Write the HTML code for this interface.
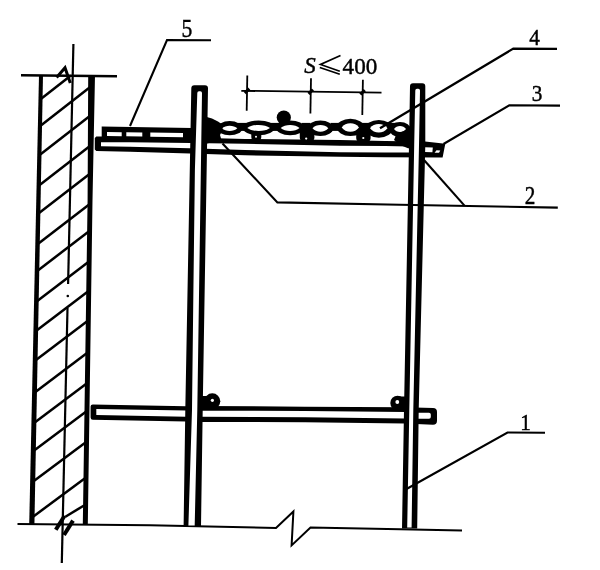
<!DOCTYPE html>
<html><head><meta charset="utf-8"><title>Scaffold section</title>
<style>
html,body{margin:0;padding:0;background:#fff;}
body{width:600px;height:570px;overflow:hidden;font-family:"Liberation Serif",serif;}
svg{display:block;}
text{font-family:"Liberation Serif",serif;fill:#000;}
</style></head><body>
<svg width="600" height="570" viewBox="0 0 600 570" style="filter:grayscale(1)">
<rect width="600" height="570" fill="#fff"/>
<line x1="40.5" y1="99.3" x2="70.9" y2="75.5" stroke="#000" stroke-width="2.5"/>
<line x1="39.9" y1="126.2" x2="91.5" y2="86.0" stroke="#000" stroke-width="2.5"/>
<line x1="39.3" y1="155.2" x2="91.1" y2="115.0" stroke="#000" stroke-width="2.5"/>
<line x1="38.7" y1="185.7" x2="90.6" y2="145.5" stroke="#000" stroke-width="2.5"/>
<line x1="38.1" y1="213.7" x2="90.2" y2="173.5" stroke="#000" stroke-width="2.5"/>
<line x1="37.5" y1="244.3" x2="89.8" y2="204.1" stroke="#000" stroke-width="2.5"/>
<line x1="36.9" y1="271.2" x2="89.4" y2="231.0" stroke="#000" stroke-width="2.5"/>
<line x1="36.3" y1="301.7" x2="89.0" y2="261.5" stroke="#000" stroke-width="2.5"/>
<line x1="35.6" y1="331.2" x2="88.6" y2="291.0" stroke="#000" stroke-width="2.5"/>
<line x1="35.0" y1="360.7" x2="88.2" y2="320.5" stroke="#000" stroke-width="2.5"/>
<line x1="34.4" y1="392.7" x2="87.7" y2="352.5" stroke="#000" stroke-width="2.5"/>
<line x1="33.7" y1="423.3" x2="87.3" y2="383.1" stroke="#000" stroke-width="2.5"/>
<line x1="33.1" y1="451.2" x2="86.9" y2="411.0" stroke="#000" stroke-width="2.5"/>
<line x1="32.5" y1="481.9" x2="86.5" y2="441.7" stroke="#000" stroke-width="2.5"/>
<line x1="31.7" y1="517.7" x2="86.0" y2="477.5" stroke="#000" stroke-width="2.5"/>
<line x1="65.4" y1="516.7" x2="84" y2="505.5" stroke="#000" stroke-width="2.5"/>
<polygon points="39,75 43,75 34.4,525 29.2,525" fill="#000"/>
<polygon points="88.2,75 95,75 92.5,200 87.8,525 82.8,525 87.6,200" fill="#000"/>
<line x1="73.4" y1="44" x2="68.1" y2="284" stroke="#000" stroke-width="2.2"/>
<circle cx="67.8" cy="296" r="1.3" fill="#000"/>
<line x1="67.5" y1="308" x2="61.8" y2="563" stroke="#000" stroke-width="2.2"/>
<line x1="21" y1="75.2" x2="117" y2="76.3" stroke="#000" stroke-width="2.6"/>
<polyline points="56.6,77.4 65,67.8 70.3,83" fill="none" stroke="#000" stroke-width="3" stroke-linejoin="miter"/>
<polyline points="17.5,524 150,525.3 276,528 293.4,511.5 291.6,545.4 310.5,527.6 400,529.2 462,530.6" fill="none" stroke="#000" stroke-width="2" stroke-linejoin="miter"/>
<line x1="55.8" y1="529.8" x2="64.6" y2="515.8" stroke="#000" stroke-width="4"/>
<line x1="64" y1="535" x2="73" y2="520.6" stroke="#000" stroke-width="4"/>
<polygon points="96.3,136.4 130,136.5 190,137.6 245,139 340,140 385,141 425,141.6 445.3,143.7 442.6,157.6 385,157.3 340,156.7 245,155.3 190,153.5 130,151.7 96.3,150.9 94.8,149.4 94.8,138" fill="#000"/>
<polygon points="101,142.3 130,142.3 190,142.9 245,143.8 340,145.7 385,146 409,146.5 409,152.5 385,152.4 340,152.3 245,150 190,148.3 130,146.7 101,146.3" fill="#fff"/>
<polygon points="425,147.3 432.8,147.4 432.4,152.2 425,152.1" fill="#fff"/>
<polygon points="436.5,150.3 440.3,150.4 439,152.8 434.6,152.7" fill="#fff"/>
<polygon points="101.7,126.4 192,128 192,139 101.7,137.5" fill="#000"/>
<polygon points="107,132 121.7,132.2 121.7,136.2 107,136" fill="#fff"/>
<polygon points="126.3,132.2 142.3,132.4 142.3,136.5 126.3,136.3" fill="#fff"/>
<polygon points="150.3,132.5 183,132.9 183,137.3 150.3,136.8" fill="#fff"/>
<ellipse cx="229.7" cy="128.2" rx="12.6" ry="7.1" fill="#000"/>
<ellipse cx="258.6" cy="127.8" rx="16.2" ry="7.4" fill="#000"/>
<ellipse cx="290.1" cy="127.8" rx="14.3" ry="7.4" fill="#000"/>
<ellipse cx="320.4" cy="128.2" rx="12.8" ry="7.8" fill="#000"/>
<ellipse cx="350.4" cy="127.3" rx="13.6" ry="8.6" fill="#000"/>
<ellipse cx="378.8" cy="128.8" rx="13.7" ry="8.9" fill="#000"/>
<ellipse cx="400.0" cy="129.5" rx="10.9" ry="7.6" fill="#000"/>
<rect x="237.8" y="122.9" width="9" height="8" fill="#000"/>
<rect x="270.8" y="122.9" width="9" height="8" fill="#000"/>
<rect x="301.5" y="122.9" width="9" height="8" fill="#000"/>
<rect x="330.5" y="122.9" width="9" height="8" fill="#000"/>
<rect x="360.0" y="122.9" width="9" height="8" fill="#000"/>
<rect x="386.5" y="122.9" width="9" height="8" fill="#000"/>
<path d="M222.0,128.3 C225.4,124.8 233.9,124.8 237.3,128.3 C233.9,131.9 225.4,131.9 222.0,128.3Z" fill="#fff"/>
<path d="M247.3,128.0 C252.3,124.0 265.0,124.0 270.0,128.0 C265.0,132.0 252.3,132.0 247.3,128.0Z" fill="#fff"/>
<path d="M280.7,128.0 C284.8,124.0 295.4,124.0 299.5,128.0 C295.4,132.0 284.8,132.0 280.7,128.0Z" fill="#fff"/>
<path d="M312.5,128.3 C316.0,123.9 324.8,123.9 328.3,128.3 C324.8,132.8 316.0,132.8 312.5,128.3Z" fill="#fff"/>
<path d="M341.7,127.5 C345.5,121.9 355.2,121.9 359.0,127.5 C355.2,133.1 345.5,133.1 341.7,127.5Z" fill="#fff"/>
<path d="M370.0,128.2 C373.9,122.6 383.6,122.6 387.5,128.2 C383.6,133.9 373.9,133.9 370.0,128.2Z" fill="#fff"/>
<path d="M394.0,129.0 C396.6,125.0 403.4,125.0 406.0,129.0 C403.4,133.0 396.6,133.0 394.0,129.0Z" fill="#fff"/>
<rect x="251.3" y="131" width="10.0" height="9.5" rx="3.5" fill="#000"/><circle cx="256" cy="136.7" r="1.0" fill="#fff"/>
<rect x="299.8" y="129" width="14.6" height="12.0" rx="3.5" fill="#000"/><circle cx="306.2" cy="138.6" r="1.1" fill="#fff"/>
<rect x="356.2" y="129" width="14.4" height="12.5" rx="3.5" fill="#000"/><circle cx="363.3" cy="138" r="1.1" fill="#fff"/>
<circle cx="283.8" cy="117.6" r="7.1" fill="#000"/>
<polygon points="205,116.5 212,118.5 218,121.5 223,125 222,131 220,135 221.5,140 205,144" fill="#000"/>
<polygon points="396.5,134 404,131 411,127 411,148.6 408,148.3 402,145.8 396,141.5 394,140" fill="#000"/>
<path d="M92.8,404.4 L186,406.2 L186,421.5 L92.8,419.7 Q90.6,419.7 90.6,417.5 L90.6,406.6 Q90.6,404.4 92.8,404.4Z" fill="#000"/>
<polygon points="96.3,409.1 186,410.6 186,416.8 96.3,415" fill="#fff"/>
<path d="M200,406 L305,406.7 L405,407.3 L433,408 Q437,408.2 437,412 L437,420.7 Q437,424.7 433,424.7 L405,423.5 L305,422.2 L200,422Z" fill="#000"/>
<polygon points="202,410.7 305,410.9 405,412 405,418.6 305,417.2 202,416.7" fill="#fff"/>
<path d="M418,412.7 L429,412.8 Q430.8,412.8 430.8,414.5 L430.8,417 Q430.8,418.8 429,418.8 L418,418.7Z" fill="#fff"/>
<circle cx="212.3" cy="401.3" r="8" fill="#000"/><rect x="200" y="396" width="10" height="12" fill="#000"/><circle cx="212.4" cy="400.3" r="1.6" fill="#fff"/>
<circle cx="397.6" cy="403" r="7.3" fill="#000"/><rect x="397" y="396.5" width="9" height="12" fill="#000"/><circle cx="397.3" cy="402" r="1.9" fill="#fff"/>
<path d="M191.3,88.3 Q191.3,85.3 194.3,85.3 L205,85.3 Q208,85.3 208,88.3 L202.7,410 L201,526.5 L183.6,526.5 L185.3,410Z" fill="#000"/>
<path d="M197.3,93 Q197.3,91.3 199,91.3 L200.3,91.3 Q202,91.3 202,93 L197.3,410 L194.7,525.5 L188.4,525.5 L192,410 L193.4,290 L194.9,170 L196.6,115Z" fill="#fff"/>
<path d="M410,86.3 Q410,83.3 413,83.3 L422.3,83.3 Q425.3,83.3 425.3,86.3 L425.3,145 L418.7,410 L417.2,528.5 L402,528.5 L404,410 L409,145Z" fill="#000"/>
<path d="M415.3,90.4 Q415.3,88.7 417,88.7 L418.3,88.7 Q420,88.7 420,90.4 L419,145 L413.3,410 L411.6,527.5 L407.2,527.5 L409.3,410 L414.2,145Z" fill="#fff"/>
<line x1="241.3" y1="90.8" x2="381.5" y2="92.6" stroke="#000" stroke-width="1.8"/>
<line x1="247.3" y1="75.4" x2="246.7" y2="110.8" stroke="#000" stroke-width="1.8"/>
<line x1="244.8" y1="93.07296" x2="249.2" y2="88.67295999999999" stroke="#000" stroke-width="3"/>
<line x1="311.0" y1="78.2" x2="310.4" y2="113.6" stroke="#000" stroke-width="1.8"/>
<line x1="308.5" y1="93.88832" x2="312.9" y2="89.48831999999999" stroke="#000" stroke-width="3"/>
<line x1="362.90000000000003" y1="79.7" x2="362.3" y2="115" stroke="#000" stroke-width="1.8"/>
<line x1="360.40000000000003" y1="94.55264" x2="364.8" y2="90.15263999999999" stroke="#000" stroke-width="3"/>
<polyline points="211,40.3 167,40 130,126" fill="none" stroke="#000" stroke-width="2.1" stroke-linejoin="miter"/>
<polyline points="557,48.9 513.3,48.6 380,128.3" fill="none" stroke="#000" stroke-width="2.3" stroke-linejoin="miter"/>
<polyline points="560,105.6 509.3,105.3 443.5,144" fill="none" stroke="#000" stroke-width="2.1" stroke-linejoin="miter"/>
<polyline points="222.5,143.5 277.4,202.4 400,204.8 557.8,207.6" fill="none" stroke="#000" stroke-width="2.1" stroke-linejoin="miter"/>
<polyline points="424,160 464.5,205.6" fill="none" stroke="#000" stroke-width="2.1" stroke-linejoin="miter"/>
<polyline points="545,432.8 507.5,432.5 406.5,489" fill="none" stroke="#000" stroke-width="2.1" stroke-linejoin="miter"/>
<text x="181.4" y="37.3" font-size="26" stroke="#000" stroke-width="0.45" textLength="10.8" lengthAdjust="spacingAndGlyphs">5</text>
<text x="529.2" y="45.4" font-size="24" stroke="#000" stroke-width="0.45" textLength="10.6" lengthAdjust="spacingAndGlyphs">4</text>
<text x="531.8" y="101.2" font-size="24" stroke="#000" stroke-width="0.45" textLength="10.6" lengthAdjust="spacingAndGlyphs">3</text>
<text x="524.8" y="203.9" font-size="24.5" stroke="#000" stroke-width="0.45" textLength="10.6" lengthAdjust="spacingAndGlyphs">2</text>
<text x="520.3" y="429.6" font-size="24" stroke="#000" stroke-width="0.45" textLength="10.6" lengthAdjust="spacingAndGlyphs">1</text>
<text x="304.2" y="72.6" font-size="23" stroke="#000" stroke-width="0.45" font-style="italic">S</text>
<text x="342.6" y="73.8" font-size="24" stroke="#000" stroke-width="0.45" textLength="34.6" lengthAdjust="spacingAndGlyphs">400</text>
<polyline points="340.5,55.5 320.5,64.5 339.8,71.2" fill="none" stroke="#000" stroke-width="1.7" stroke-linejoin="miter"/>
<line x1="319.8" y1="67.5" x2="339.8" y2="74.3" stroke="#000" stroke-width="1.7"/>
</svg>
</body></html>
